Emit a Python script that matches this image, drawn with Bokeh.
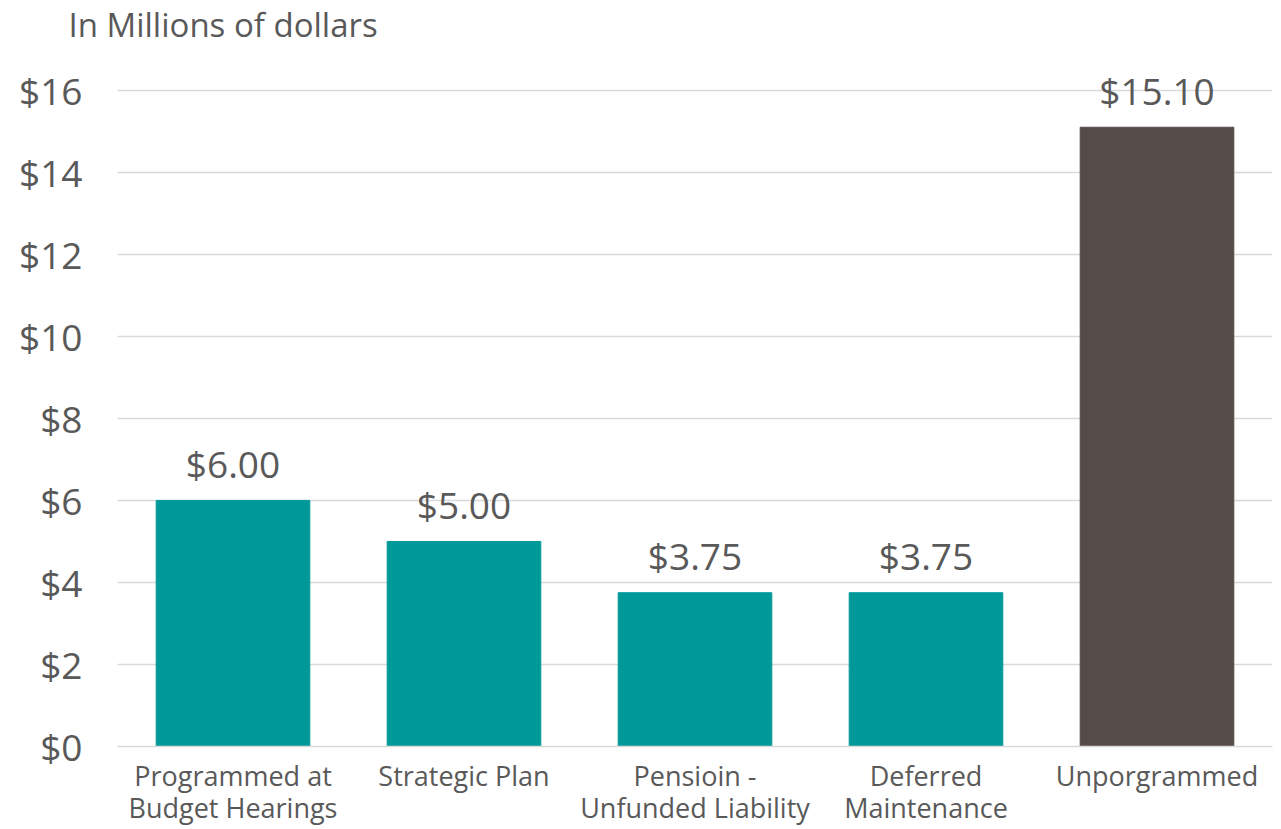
from bokeh.plotting import figure
from bokeh.layouts import column
from bokeh.models import ColumnDataSource, CustomJSTickFormatter
from bokeh.embed import file_html
from bokeh.resources import INLINE
from bokeh.core.properties import value

categories = ["Programmed at\nBudget Hearings", "Strategic Plan", "Pensioin -\nUnfunded Liability",
              "Deferred\nMaintenance", "Unporgrammed"]
values = [6.00, 5.00, 3.75, 3.75, 15.10]
labels = ["$6.00", "$5.00", "$3.75", "$3.75", "$15.10"]
colors = ["#009999", "#009999", "#009999", "#009999", "#554B49"]
y_ticks = [0, 2, 4, 6, 8, 10, 12, 14, 16]
title_text = ["In Millions of dollars"]

FONT = "Open Sans"
TXT = "#595959"
W = 1281
TOP_H = 56

# ---- title strip ----
t = figure(width=W, height=TOP_H, x_range=(0, W), y_range=(0, TOP_H),
           output_backend="svg", toolbar_location=None,
           min_border=0, min_border_left=0, min_border_right=0, min_border_top=0, min_border_bottom=0)
t.axis.visible = False
t.grid.grid_line_color = None
t.outline_line_color = None
t.text(x=[68], y=[TOP_H - 24], text=title_text, text_align="left", text_baseline="alphabetic",
       text_font=value(FONT), text_font_size="33px", text_color=TXT)

# ---- main chart ----
src = ColumnDataSource(dict(cat=categories, val=values, lab=labels, col=colors))

px_per_unit = (749 - 90) / 16
y_top = 16 + (90 - TOP_H) / px_per_unit

p = figure(x_range=categories, y_range=(0, y_top), width=W, height=829 - TOP_H,
           output_backend="svg", toolbar_location=None,
           min_border_left=117, min_border_right=9, min_border_top=0, min_border_bottom=80)
p.outline_line_color = None

for fig in (t, p):
    if hasattr(fig, "frame_align"):
        fig.frame_align = False

p.vbar(x="cat", top="val", width=0.665, color="col", source=src)
p.text(x="cat", y="val", text="lab", source=src, text_align="center", text_baseline="alphabetic",
       y_offset=-37, text_font=value(FONT), text_font_size="37px", text_color=TXT)

p.yaxis.ticker = y_ticks
p.yaxis.formatter = CustomJSTickFormatter(code="return '$' + tick;")
p.yaxis.axis_line_color = None
p.yaxis.major_tick_line_color = None
p.yaxis.minor_tick_line_color = None
p.yaxis.major_tick_out = 0
p.yaxis.major_tick_in = 0
p.yaxis.major_label_text_font = FONT
p.yaxis.major_label_text_font_size = "37px"
p.yaxis.major_label_text_color = TXT
p.yaxis.major_label_standoff = 35

p.xaxis.axis_line_color = "#D9D9D9"
p.xaxis.axis_line_width = 1.5
p.xaxis.major_tick_line_color = None
p.xaxis.major_tick_out = 0
p.xaxis.major_tick_in = 0
p.xaxis.major_label_text_font = FONT
p.xaxis.major_label_text_font_size = "27px"
p.xaxis.major_label_text_line_height = 0.88
p.xaxis.major_label_text_color = TXT
p.xaxis.major_label_standoff = 10

p.xgrid.grid_line_color = None
p.ygrid.grid_line_color = "#D9D9D9"
p.ygrid.grid_line_width = 1.5

layout = column(t, p, spacing=0)
open("out.html", "w").write(file_html(layout, INLINE))
